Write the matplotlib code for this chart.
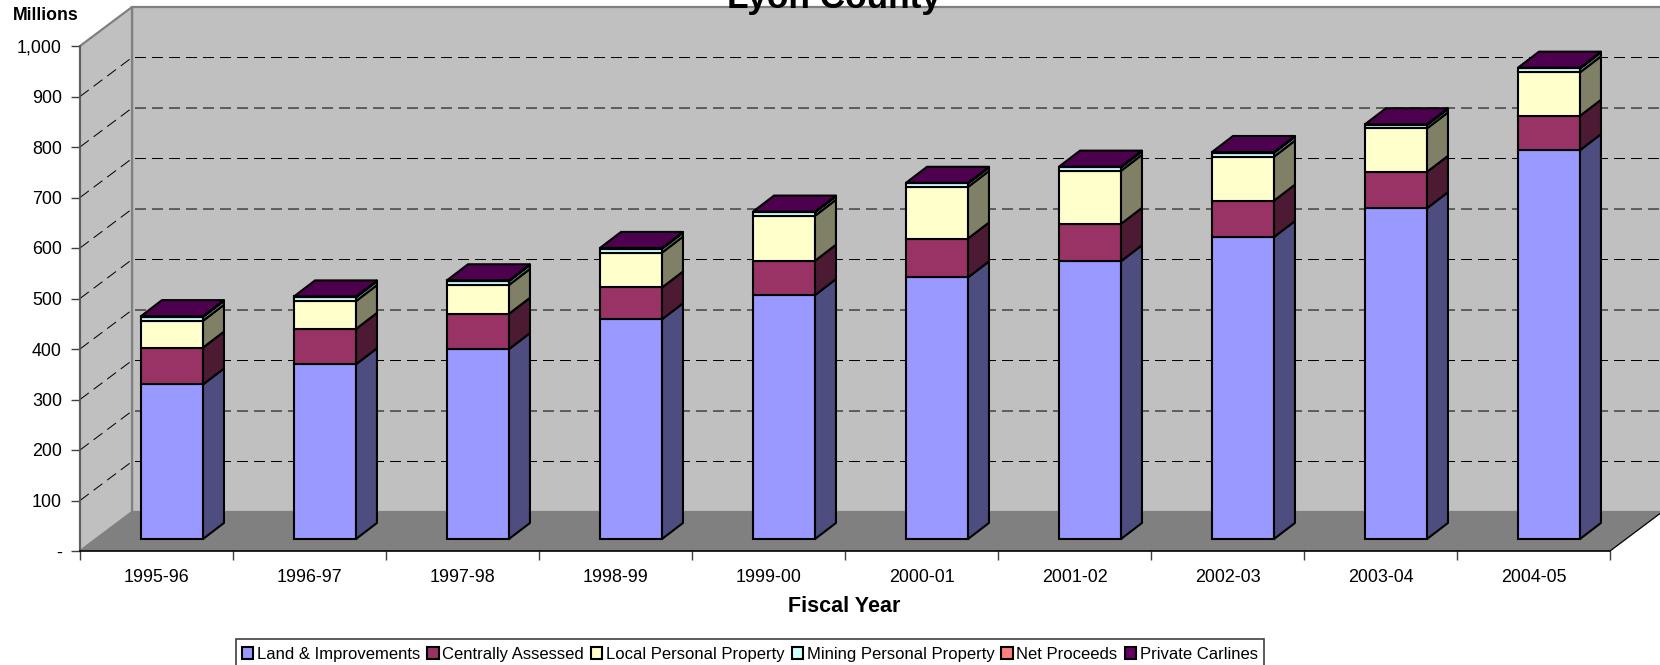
import matplotlib
matplotlib.use("Agg")
import matplotlib.pyplot as plt
from matplotlib.patches import Polygon, Rectangle

plt.rcParams['font.family'] = ['Liberation Sans', 'DejaVu Sans']

years = ['1995-96', '1996-97', '1997-98', '1998-99', '1999-00',
         '2000-01', '2001-02', '2002-03', '2003-04', '2004-05']
names = ['Land & Improvements', 'Centrally Assessed', 'Local Personal Property',
         'Mining Personal Property', 'Net Proceeds', 'Private Carlines']

land = [306, 346, 376, 435, 483, 518, 550, 598, 655, 770]
central = [73, 70, 70, 63, 68, 77, 74, 72, 72, 68]
local = [53, 55, 57, 69, 89, 102, 105, 87, 86, 86]
mining = [8, 8, 8, 8, 7, 7, 7, 8, 7, 8]
net = [0.3, 0.3, 0.3, 0.3, 0.3, 0.3, 0.3, 0.3, 0.3, 0.3]
carlines = [1, 1, 1, 1, 1, 1, 1, 1, 1, 1]
series = [land, central, local, mining, net, carlines]

front = ['#9999FF', '#993366', '#FFFFCC', '#CCFFFF', '#FF8080', '#660066']
side = ['#4D4D80', '#4D1A33', '#808066', '#668080', '#804040', '#330033']
top_face = '#4D004D'

y_ticks = [0, 100, 200, 300, 400, 500, 600, 700, 800, 900, 1000]
y_labels = ['-', '100', '200', '300', '400', '500', '600', '700', '800', '900', '1,000']

# fake 3d offsets, in data units
wall_dx = 0.34
wall_dy = 77.2
bar_dx = 0.137
bar_dy = 31.7
bar_x0 = 0.399
bar_w = 0.405
bar_base = 23.8

fig = plt.figure(figsize=(16.6, 6.65), dpi=100)
ax = fig.add_axes([80 / 1660, (665 - 551) / 665, 1530 / 1660, 505 / 665])
ax.patch.set_visible(False)
ax.set_xlim(0, 10)
ax.set_ylim(0, 1000)

# walls and floor
wall_edge = '#808080'
ax.add_patch(Polygon([(wall_dx, wall_dy), (10 + wall_dx, wall_dy), (10 + wall_dx, 1000 + wall_dy),
                      (wall_dx, 1000 + wall_dy)], fc='#C0C0C0', ec=wall_edge, lw=1.6, clip_on=False, zorder=0))
ax.add_patch(Polygon([(0, 0), (0, 1000), (wall_dx, 1000 + wall_dy), (wall_dx, wall_dy)],
                     fc='#C0C0C0', ec=wall_edge, lw=1.6, clip_on=False, zorder=0))
ax.add_patch(Polygon([(0, 0), (10, 0), (10 + wall_dx, wall_dy), (wall_dx, wall_dy)],
                     fc='#808080', ec='none', clip_on=False, zorder=0.5))
ax.plot([10, 10 + wall_dx], [0, wall_dy], color='black', lw=0.9, clip_on=False, zorder=1)

# gridlines
for v in y_ticks[1:-1]:
    ax.plot([0, wall_dx, 10 + wall_dx], [v, v + wall_dy, v + wall_dy], color='black', lw=0.72,
            linestyle=(0, (11, 6)), clip_on=False, zorder=1)

xs = [i + bar_x0 for i in range(len(years))]
bottoms = [bar_base] * len(years)
for vals, name, fc, sc in zip(series, names, front, side):
    ax.bar(xs, vals, width=bar_w, bottom=bottoms, align='edge', color=fc, edgecolor='black',
           linewidth=1.5, label=name, zorder=3)
    for x, b, v in zip(xs, bottoms, vals):
        r = x + bar_w
        ax.add_patch(Polygon([(r, b), (r + bar_dx, b + bar_dy), (r + bar_dx, b + v + bar_dy), (r, b + v)],
                             fc=sc, ec='black', lw=1.5, joinstyle='round', clip_on=False, zorder=3))
    bottoms = [b + v for b, v in zip(bottoms, vals)]

for x, t in zip(xs, bottoms):
    ax.add_patch(Polygon([(x, t), (x + bar_w, t), (x + bar_w + bar_dx, t + bar_dy), (x + bar_dx, t + bar_dy)],
                         fc=top_face, ec='black', lw=1.5, clip_on=False, zorder=3))

ax.spines['top'].set_visible(False)
ax.spines['right'].set_visible(False)
ax.spines['left'].set_color('#595959')
ax.spines['left'].set_linewidth(1.2)
ax.spines['bottom'].set_color('black')
ax.spines['bottom'].set_linewidth(1.2)
ax.spines['left'].set_zorder(2)
ax.spines['bottom'].set_zorder(2)

ax.set_yticks(y_ticks)
ax.set_yticklabels(y_labels, fontsize=12.9)
ax.tick_params(axis='y', length=6.5, width=1, color='#404040', pad=6.5)
ax.set_xticks(range(11))
ax.set_xticklabels([])
ax.set_xticks([i + 0.5 for i in range(10)], minor=True)
ax.set_xticklabels(years, minor=True, fontsize=12.9)
ax.tick_params(axis='x', which='major', length=6.5, width=1, color='#404040')
ax.tick_params(axis='x', which='minor', length=0, pad=13.2)

fig.text(834 / 1660, 1 - 8 / 665, 'Lyon County', ha='center', va='baseline', fontsize=25.4, fontweight='bold')
fig.text(13 / 1660, 1 - 16 / 665, 'Millions', ha='left', va='center', fontsize=12.7, fontweight='bold')
fig.text(844 / 1660, 1 - 607 / 665, 'Fiscal Year', ha='center', va='center', fontsize=15.5, fontweight='bold')

# legend box runs off the bottom of the picture, so draw it by hand
fig.add_artist(Rectangle((236 / 1660, -3 / 665), 1028 / 1660, 29 / 665, transform=fig.transFigure,
                         fc='white', ec='#404040', lw=1.2))
fig.legend(loc='upper left', bbox_to_anchor=(237 / 1660, 1 - 642 / 665), ncol=6, fontsize=12,
           frameon=False, borderaxespad=0,
           handlelength=0.68, handleheight=0.68, handletextpad=0.22, columnspacing=0.42,
           borderpad=0.3)

fig.savefig('out.png', dpi=100)
